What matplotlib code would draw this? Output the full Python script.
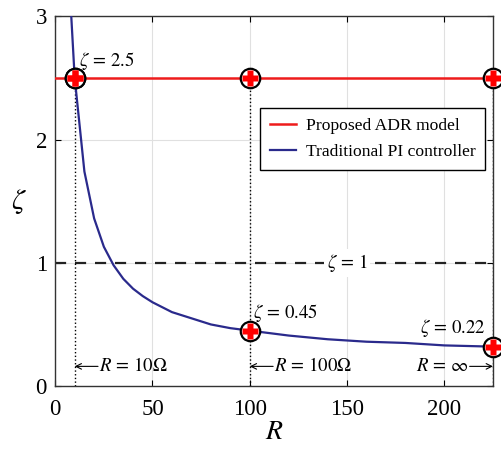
import matplotlib.pyplot as plt

plt.rcParams['font.family'] = ['Liberation Serif', 'DejaVu Serif']
plt.rcParams['mathtext.fontset'] = 'stix'

# Traditional PI controller: damping ratio vs load resistance
R_pi = [8, 10, 15, 20, 25, 30, 35, 40, 45, 50, 60, 70, 80, 90, 100,
        120, 140, 160, 180, 200, 225]
zeta_pi = [3.07, 2.5, 1.74, 1.36, 1.13, 0.98, 0.87, 0.79, 0.73, 0.68, 0.60, 0.55, 0.50,
           0.47, 0.45, 0.41, 0.38, 0.36, 0.35, 0.33, 0.32]

# Proposed ADR model: constant damping ratio
R_adr = [0, 225]
zeta_adr = [2.5, 2.5]

# marked operating points
mark_R = [10, 100, 225, 10, 100, 225]
mark_zeta = [2.5, 2.5, 2.5, 2.5, 0.45, 0.32]
vline_R = [10, 100, 225]

fig, ax = plt.subplots(figsize=(5.02, 4.5), dpi=100)
fig.subplots_adjust(left=0.11, right=0.982, top=0.964, bottom=0.142)

ax.grid(True, color='#e0e0e0', lw=0.8)
ax.set_axisbelow(True)

ax.plot(R_adr, zeta_adr, color='#ee1c1c', lw=1.8, label='Proposed ADR model', zorder=3)
ax.plot(R_pi, zeta_pi, color='#2a2a8c', lw=1.6, label='Traditional PI controller', zorder=3)

ax.axhline(1, color='#222222', ls=(0, (5, 4)), lw=1.6, zorder=2)
ax.text(150, 1, r'$\zeta\,=\,1$', ha='center', va='center', fontsize=13.5,
        bbox=dict(fc='white', ec='none', pad=2), zorder=4)

for r in vline_R:
    ax.plot([r, r], [0, 2.5], color='black', ls=':', lw=1.0, zorder=2)

ax.plot(mark_R, mark_zeta, ls='none', marker='o', ms=14, mfc='white', mec='black', mew=1.6,
        zorder=5, clip_on=False)
ax.plot(mark_R, mark_zeta, ls='none', marker='P', ms=12, mfc='#ff0000', mec='none',
        zorder=6, clip_on=False)

ax.text(12, 2.55, r'$\zeta\,=\,2.5$', fontsize=13.5, ha='left', va='bottom')
ax.text(101.5, 0.5, r'$\zeta\,=\,0.45$', fontsize=13.5, ha='left', va='bottom')
ax.text(221, 0.38, r'$\zeta\,=\,0.22$', fontsize=13.5, ha='right', va='bottom')

arrow = dict(arrowstyle='->', color='black', lw=0.8, shrinkA=0, shrinkB=0)
ax.annotate('', xy=(10, 0.16), xytext=(22, 0.16), arrowprops=arrow)
ax.text(22.5, 0.16, r'$R\,=\,10\Omega$', fontsize=13.5, va='center', ha='left')
ax.annotate('', xy=(100, 0.16), xytext=(112, 0.16), arrowprops=arrow)
ax.text(112.5, 0.16, r'$R\,=\,100\Omega$', fontsize=13.5, va='center', ha='left')
ax.annotate('', xy=(225, 0.16), xytext=(213, 0.16), arrowprops=arrow)
ax.text(212.5, 0.16, r'$R\,=\,\infty$', fontsize=13.5, va='center', ha='right')

ax.set_xlim(0, 225)
ax.set_ylim(0, 3)
ax.set_xticks([0, 50, 100, 150, 200])
ax.set_yticks([0, 1, 2, 3])
ax.tick_params(direction='in', top=True, right=True, labelsize=16.5, length=4)
ax.tick_params(axis='x', pad=9)
ax.tick_params(axis='y', pad=6)
for s in ax.spines.values():
    s.set_color('#333333')
    s.set_linewidth(1.0)

ax.set_xlabel(r'$R$', fontsize=20, labelpad=0)
ax.set_ylabel(r'$\zeta$', fontsize=21, rotation=0, labelpad=12, va='center')

leg = ax.legend(loc='upper right', bbox_to_anchor=(0.982, 0.751), borderaxespad=0,
                fontsize=12.6, frameon=True, fancybox=False, edgecolor='black',
                framealpha=1, handlelength=1.5, handletextpad=0.55,
                borderpad=0.55, labelspacing=0.55)
leg.get_frame().set_linewidth(1.0)

fig.savefig('out.png', dpi=100)
